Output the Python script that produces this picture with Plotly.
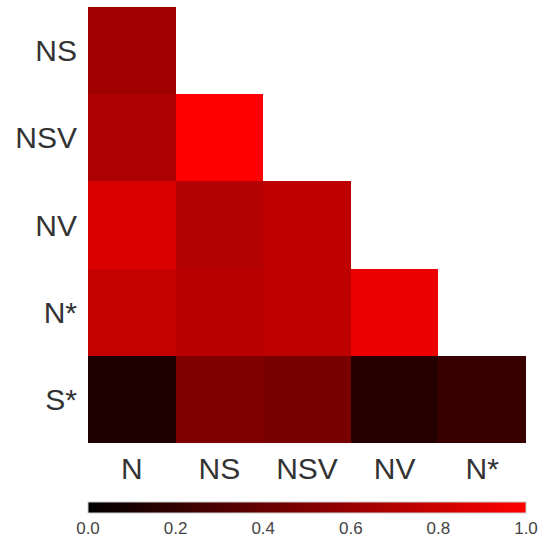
import plotly.graph_objects as go

cols = ["N", "NS", "NSV", "NV", "N*"]
rows = ["NS", "NSV", "NV", "N*", "S*"]
row_NS = [0.63, None, None, None, None]
row_NSV = [0.68, 1.00, None, None, None]
row_NV = [0.85, 0.70, 0.75, None, None]
row_Nstar = [0.77, 0.72, 0.75, 0.93, None]
row_Sstar = [0.12, 0.50, 0.47, 0.15, 0.22]
z = [row_NS, row_NSV, row_NV, row_Nstar, row_Sstar]

fig = go.Figure(go.Heatmap(
    z=z, x=cols, y=rows, zmin=0, zmax=1,
    colorscale=[[0, "#000000"], [1, "#ff0000"]],
    hoverongaps=False,
    colorbar=dict(
        orientation="h", x=0.5, xanchor="center", y=-0.136, yanchor="top",
        len=1.0, lenmode="fraction", thickness=11, xpad=0, ypad=0,
        outlinewidth=1, outlinecolor="#cccccc",
        tickvals=[0, 0.2, 0.4, 0.6, 0.8, 1.0], ticktext=["0.0", "0.2", "0.4", "0.6", "0.8", "1.0"],
        ticks="", tickfont=dict(size=17, color="#444444", family="Liberation Sans"),
    ),
))
fig.update_layout(
    width=544, height=539,
    margin=dict(l=88, r=18, t=7, b=96, autoexpand=False),
    plot_bgcolor="white", paper_bgcolor="white",
    font=dict(family="Liberation Sans", color="#333333"),
)
fig.update_xaxes(showgrid=False, zeroline=False, tickfont=dict(size=30), ticks="", ticklabelstandoff=5)
fig.update_yaxes(showgrid=False, zeroline=False, autorange="reversed", tickfont=dict(size=30), ticks="", ticklabelstandoff=10)
fig.write_html("out.html")
